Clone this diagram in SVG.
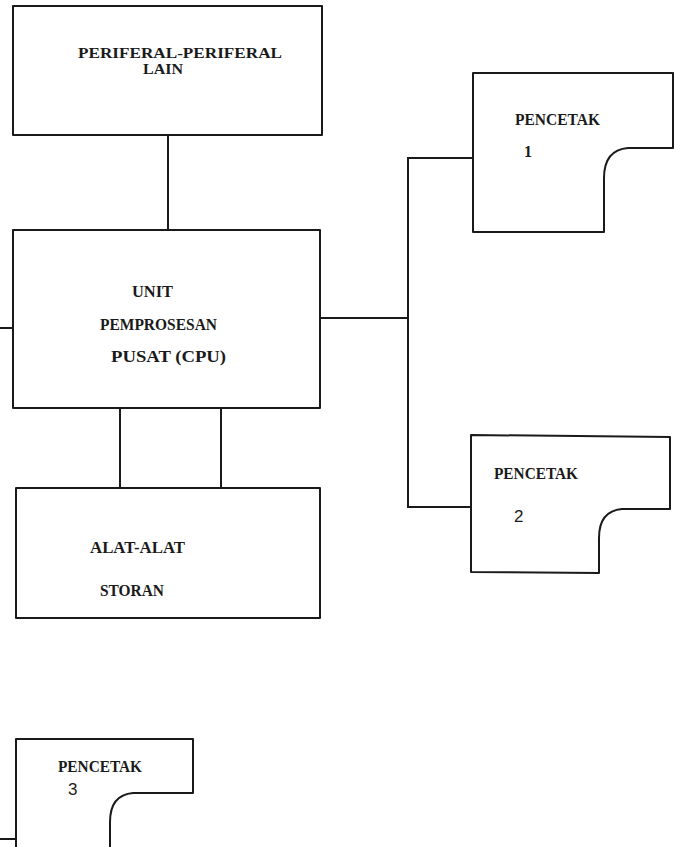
<svg xmlns="http://www.w3.org/2000/svg" width="674" height="847" viewBox="0 0 674 847">
<style>
.box{fill:#fff;stroke:#1a1a1a;stroke-width:2;stroke-linejoin:round}
.ln{fill:none;stroke:#1a1a1a;stroke-width:2}
text{font-family:"Liberation Serif","Times New Roman",serif;font-weight:bold;font-size:16px;fill:#1a1a1a}
.sm{font-size:14px}
.sn{font-family:"Liberation Sans",Arial,sans-serif;font-weight:normal;font-size:17px}
</style>
<rect width="674" height="847" fill="#fff"/>
<g id="connectors">
<path class="ln" d="M168 135V230"/>
<path class="ln" d="M0 328H13"/>
<path class="ln" d="M320 318H408"/>
<path class="ln" d="M473 158H408V507H471"/>
<path class="ln" d="M120 408V488"/>
<path class="ln" d="M221 408V488"/>
<path class="ln" d="M0 839H16"/>
</g>
<g id="peripheral">
<rect class="box" x="13" y="6" width="309" height="129"/>
<text class="sm" x="78" y="58" textLength="204" lengthAdjust="spacingAndGlyphs">PERIFERAL-PERIFERAL</text>
<text class="sm" x="143" y="74" textLength="40" lengthAdjust="spacingAndGlyphs">LAIN</text>
</g>
<g id="cpu">
<rect class="box" x="13" y="230" width="307" height="178"/>
<text x="132" y="297" textLength="41" lengthAdjust="spacingAndGlyphs">UNIT</text>
<text x="100" y="330" textLength="117" lengthAdjust="spacingAndGlyphs">PEMPROSESAN</text>
<text x="111" y="362" textLength="115" lengthAdjust="spacingAndGlyphs">PUSAT (CPU)</text>
</g>
<g id="storage">
<rect class="box" x="16" y="488" width="304" height="130"/>
<text x="90" y="553" textLength="95" lengthAdjust="spacingAndGlyphs">ALAT-ALAT</text>
<text x="100" y="596" textLength="64" lengthAdjust="spacingAndGlyphs">STORAN</text>
</g>
<g id="printer1">
<path class="box" d="M473 73H673V148H628Q604 150 604 178V232H473Z"/>
<text x="515" y="125" textLength="85" lengthAdjust="spacingAndGlyphs">PENCETAK</text>
<text x="524" y="157">1</text>
</g>
<g id="printer2">
<path class="box" d="M471 435L670 437V509H622Q599 511 599 538V573L471 572Z"/>
<text x="494" y="479" textLength="84" lengthAdjust="spacingAndGlyphs">PENCETAK</text>
<text class="sn" x="514" y="522">2</text>
</g>
<g id="printer3">
<path class="box" d="M16 848V739H193V793H133Q110 795 110 822V848"/>
<text x="58" y="772" textLength="84" lengthAdjust="spacingAndGlyphs">PENCETAK</text>
<text class="sn" x="68" y="795">3</text>
</g>
</svg>
